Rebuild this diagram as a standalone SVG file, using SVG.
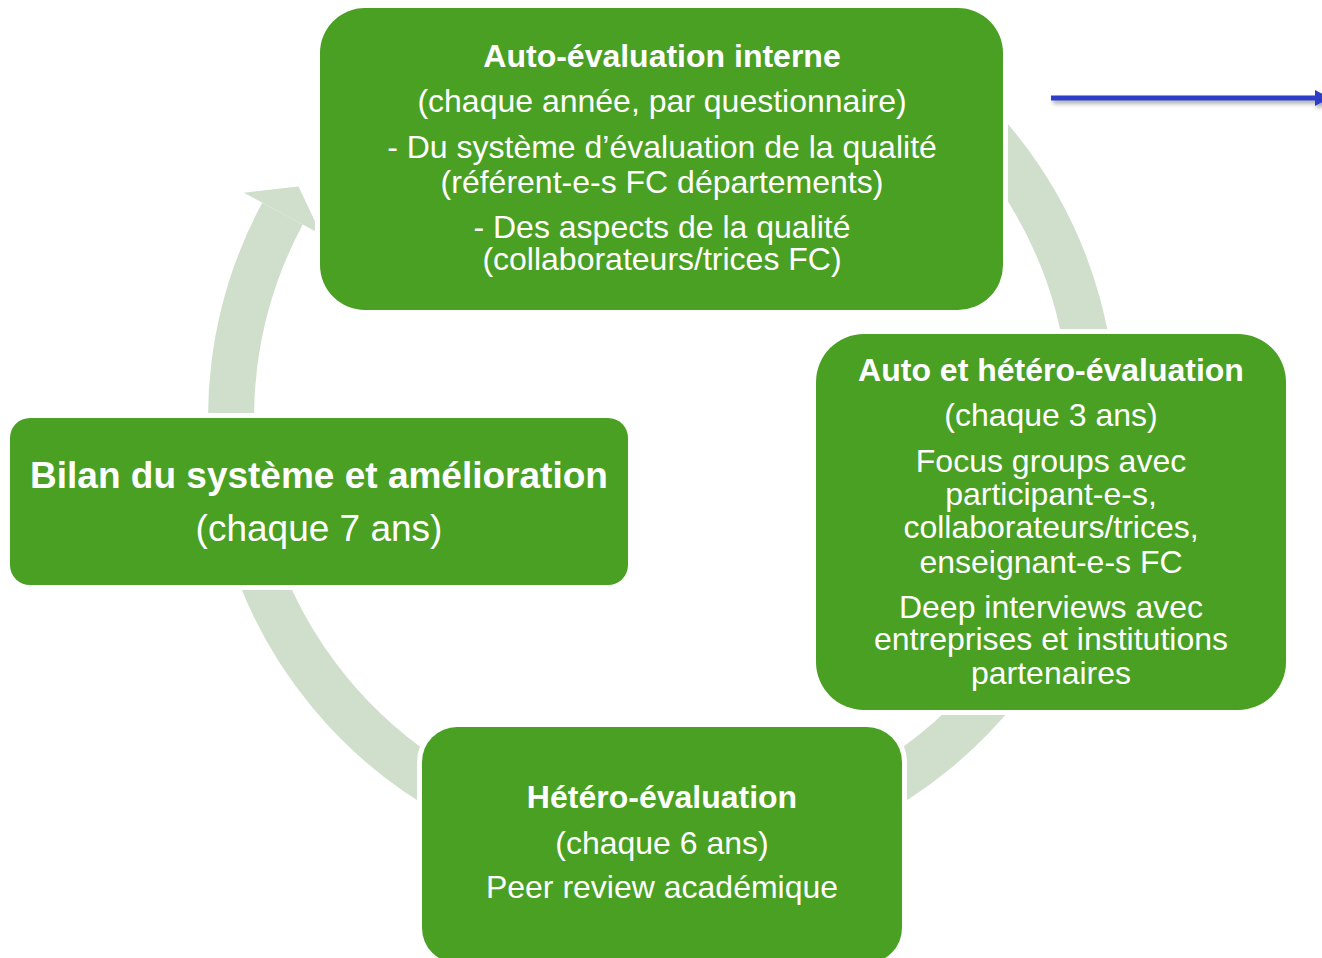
<svg xmlns="http://www.w3.org/2000/svg" width="1322" height="958" viewBox="0 0 1322 958">
<style>
.box{fill:#4AA023;stroke:#FFFFFF;stroke-width:10;paint-order:stroke}
.t{font-family:"Liberation Sans",Arial,sans-serif;fill:#FFFFFF;text-anchor:middle;font-size:32px}
.b{font-weight:bold}
.big{font-size:37px}
</style>
<defs>
<filter id="sh" x="-5%" y="-200%" width="110%" height="500%">
<feDropShadow dx="2" dy="3" stdDeviation="2" flood-color="#000" flood-opacity="0.35"/>
</filter>
</defs>
<rect width="1322" height="958" fill="#FFFFFF"/>
<g id="connectors">
<path d="M 877.5 44.7 A 431 431 0 1 1 282.5 213.7" fill="none" stroke="#D0DFCC" stroke-width="46"/>
<polygon points="243.8,192.8 298.5,186.4 321.3,234.5" fill="#D0DFCC"/>
<g filter="url(#sh)">
<line x1="1051" y1="98" x2="1316" y2="98" stroke="#2E3CC8" stroke-width="5"/>
<polygon points="1315,90 1330,98 1315,106" fill="#2E3CC8"/>
</g>
</g>
<g id="node-top">
<rect class="box" x="320" y="8" width="683" height="302" rx="45"/>
<text class="t b" x="662" y="67">Auto-évaluation interne</text>
<text class="t" x="662" y="112">(chaque année, par questionnaire)</text>
<text class="t" x="662" y="158">- Du système d’évaluation de la qualité</text>
<text class="t" x="662" y="193">(référent-e-s FC départements)</text>
<text class="t" x="662" y="238">- Des aspects de la qualité</text>
<text class="t" x="662" y="270">(collaborateurs/trices FC)</text>
</g>
<g id="node-right">
<rect class="box" x="816" y="334" width="470" height="376" rx="48"/>
<text class="t b" x="1051" y="381">Auto et hétéro-évaluation</text>
<text class="t" x="1051" y="426">(chaque 3 ans)</text>
<text class="t" x="1051" y="472">Focus groups avec</text>
<text class="t" x="1051" y="505">participant-e-s,</text>
<text class="t" x="1051" y="538">collaborateurs/trices,</text>
<text class="t" x="1051" y="573">enseignant-e-s FC</text>
<text class="t" x="1051" y="618">Deep interviews avec</text>
<text class="t" x="1051" y="650">entreprises et institutions</text>
<text class="t" x="1051" y="684">partenaires</text>
</g>
<g id="node-bottom">
<rect class="box" x="422" y="727" width="480" height="236" rx="35"/>
<text class="t b" x="662" y="808">Hétéro-évaluation</text>
<text class="t" x="662" y="854">(chaque 6 ans)</text>
<text class="t" x="662" y="898">Peer review académique</text>
</g>
<g id="node-left">
<rect class="box" x="10" y="418" width="618" height="167" rx="20"/>
<text class="t b big" x="319" y="488">Bilan du système et amélioration</text>
<text class="t big" x="319" y="541">(chaque 7 ans)</text>
</g>
</svg>
